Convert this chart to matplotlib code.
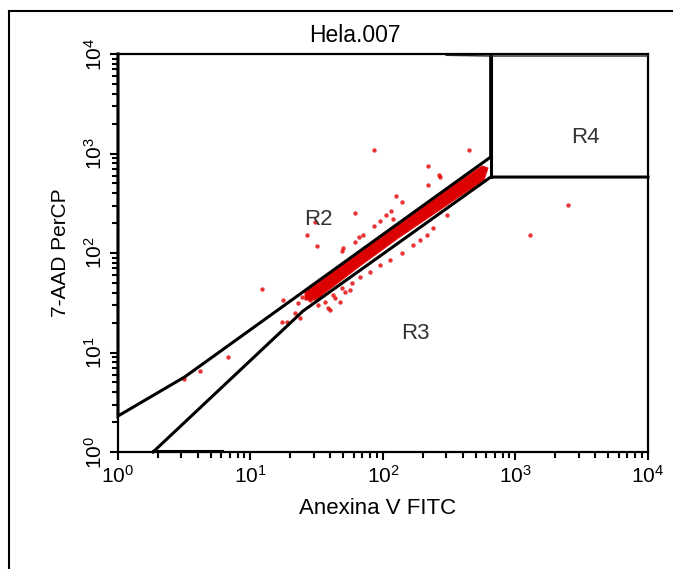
import matplotlib
matplotlib.use('Agg')
import matplotlib.pyplot as plt
from matplotlib.lines import Line2D

plt.rcParams['font.family'] = ['Liberation Sans', 'DejaVu Sans']
plt.rcParams['mathtext.fontset'] = 'custom'
plt.rcParams['mathtext.rm'] = 'Liberation Sans'

# scattered events (Anexina V FITC, 7-AAD PerCP)
event_x = [85.5, 446, 219, 265, 269, 219, 125, 139, 61.5, 115, 105, 94.9, 119, 85.5,
           70.6, 65.9, 61.5, 49.9, 49.1, 26.7, 31.8, 30.7, 17.6, 17.3, 18.8, 21.7,
           23.6, 470, 304, 238, 215, 190, 168, 139, 113, 94.9, 79.8, 67.0, 58.3,
           49.1, 42.0, 39.8, 3.15, 4.16, 6.76, 12.2, 1286, 2490,
           28.1, 32.3, 36.5, 43.4, 51.7, 33.5, 29.1, 24.5, 22.8, 38.5, 47.3, 56.3]
event_y = [1084, 1084, 749, 608, 580, 482, 374, 326, 252, 264, 241, 210, 220, 187,
           152, 145, 129, 112, 105, 152, 118, 205, 33.7, 20.3, 20.3, 24.9,
           22.2, 450, 241, 178, 152, 135, 120, 100, 85, 76, 64, 57, 50,
           44.5, 37.8, 26.7, 5.4, 6.5, 9.0, 43.5, 152, 304,
           33.7, 30.0, 32.2, 35.3, 40.5, 37.0, 38.7, 36.1, 31.4, 28.0, 32.2, 42.5]

# outline of the dense core of the population
core_x = [25.8, 56.3, 134, 320, 559, 620, 578, 320, 134, 67.0, 39.8, 30.7, 25.8]
core_y = [40.5, 85.1, 195, 450, 749, 715, 542, 318, 145, 74, 43.5, 33.7, 33.7]

# gates
r2_x = [1, 1, 3.2, 650, 650]
r2_y = [10000, 2.3, 5.7, 922, 9500]
r3_x = [1.84, 24.9, 650, 10000]
r3_y = [1, 26.1, 580, 580]
r4_x = [650, 650]
r4_y = [580, 9500]
top_x = [300, 650, 10000]
top_y = [9700, 9550, 9550]
base_x = [1.84, 6.1]
base_y = [1.03, 1.03]

region_names = ['R2', 'R3', 'R4']
region_x = [32.3, 174.5, 3350]
region_y = [215, 15.7, 1465]

decades = [1, 10, 100, 1000, 10000]
decade_labels = [r'$\mathregular{10^{%d}}$' % i for i in range(5)]

fig = plt.figure(figsize=(6.73, 5.69), dpi=100)
ax = fig.add_axes([0.1753, 0.2056, 0.7875, 0.6995])
ax.set_xscale('log')
ax.set_yscale('log')
ax.set_xlim(1, 10000)
ax.set_ylim(1, 10000)

ax.fill(core_x, core_y, color='#dd0000', lw=0.8, ec='#e41010', zorder=2)
ax.scatter(event_x, event_y, s=10, color='#e00000', linewidths=0, alpha=0.8, zorder=2)

for gx, gy in [(r2_x, r2_y), (r3_x, r3_y), (r4_x, r4_y)]:
    ax.plot(gx, gy, color='black', lw=2.2, solid_joinstyle='miter', clip_on=False, zorder=3)
ax.plot(base_x, base_y, color='black', lw=2.2, clip_on=False, zorder=3)
ax.plot(top_x, top_y, color='#222222', lw=1.0, clip_on=False, zorder=3)

for name, tx, ty in zip(region_names, region_x, region_y):
    ax.text(tx, ty, name, fontsize=16, color='#333333', ha='center', va='center')

ax.set_xticks(decades)
ax.set_xticklabels(decade_labels, fontsize=15)
ax.set_yticks(decades)
ax.set_yticklabels(decade_labels, fontsize=15, rotation=90, va='center')
ax.tick_params(which='major', length=6, width=1.5, direction='out', pad=3)
ax.tick_params(which='minor', length=4, width=1.5, direction='out')
for sp in ax.spines.values():
    sp.set_linewidth(1.6)

ax.set_xlabel('Anexina V FITC', fontsize=16)
ax.xaxis.set_label_coords(0.49, -0.141)
ax.xaxis.label.set_va('center')
ax.set_ylabel('7-AAD PerCP', fontsize=15)
ax.yaxis.set_label_coords(-0.109, 0.5)
ax.yaxis.label.set_va('center')

fig.text(0.527, 0.938, 'Hela.007', fontsize=16.5, ha='center', va='center')

# outer frame of the plot window
fig.add_artist(Line2D([0.0134, 0.0134], [0.0, 0.981], color='black', lw=1.5))
fig.add_artist(Line2D([0.0134, 1.0], [0.981, 0.981], color='black', lw=1.5))

fig.savefig('out.png', dpi=100)
